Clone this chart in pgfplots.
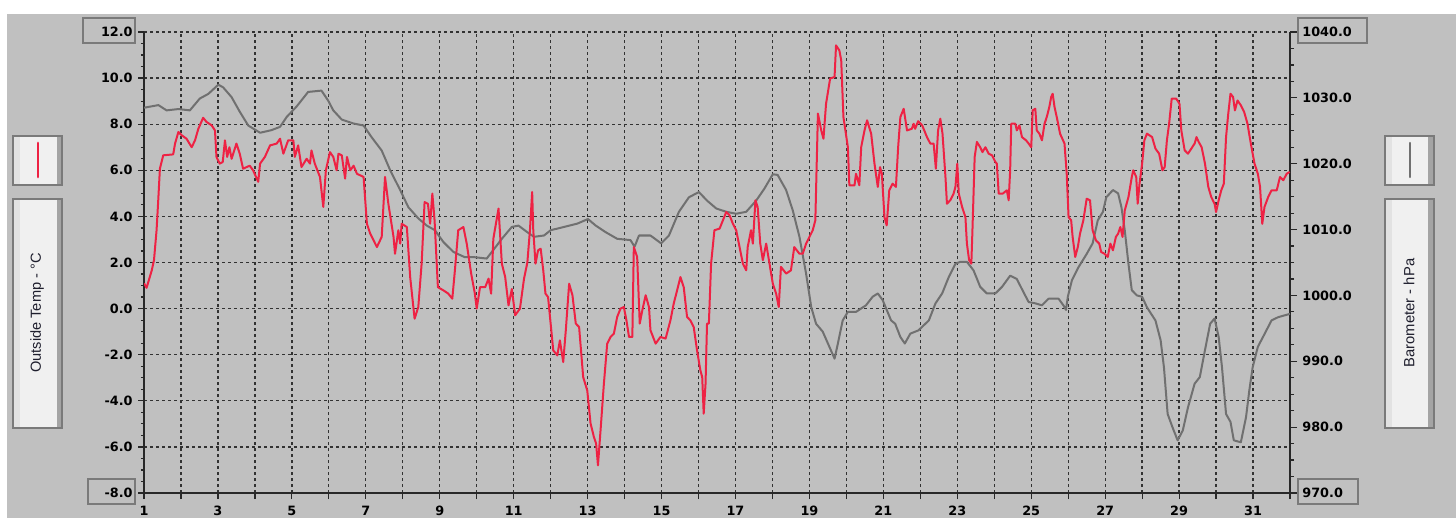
\documentclass[border=0pt]{standalone}
\usepackage{pgfplots}
\usepackage{pgfplotstable}
\pgfplotsset{compat=1.18}
\usepackage{fontspec}
\setmainfont{Liberation Sans}
\newfontfamily\tickfont{DejaVu Sans}
\definecolor{bg}{RGB}{192,192,192}
\definecolor{tempred}{RGB}{238,34,68}
\definecolor{presgrey}{RGB}{112,112,112}
\definecolor{gridc}{RGB}{50,50,50}
\definecolor{axisc}{RGB}{40,40,40}
\definecolor{boxfill}{RGB}{240,240,240}
\definecolor{boxleft}{RGB}{226,226,226}
\definecolor{boxright}{RGB}{164,164,164}
\definecolor{boxborder}{RGB}{122,122,122}
\definecolor{lblc}{RGB}{30,30,45}

\pgfplotstableread{
d T
1.00 1.1
1.07 0.9
1.21 1.66
1.27 2.1
1.34 3.4
1.39 4.84
1.43 6.07
1.52 6.65
1.79 6.69
1.84 7.16
1.93 7.66
2.02 7.52
2.15 7.37
2.29 7.0
2.38 7.3
2.47 7.8
2.60 8.28
2.69 8.1
2.83 7.95
2.92 7.73
2.96 6.58
3.05 6.29
3.13 6.36
3.19 7.3
3.25 6.58
3.31 7.0
3.37 6.5
3.50 7.16
3.59 6.72
3.68 6.07
3.86 6.2
3.95 6.0
4.09 5.5
4.14 6.29
4.27 6.58
4.41 7.08
4.59 7.16
4.68 7.37
4.77 6.72
4.90 7.3
5.04 7.3
5.08 6.58
5.17 7.08
5.26 6.14
5.40 6.5
5.49 6.29
5.53 6.86
5.62 6.29
5.76 5.71
5.85 4.41
5.92 6.0
6.03 6.79
6.12 6.58
6.21 6.0
6.26 6.72
6.35 6.65
6.44 5.64
6.49 6.58
6.58 6.0
6.67 6.2
6.76 5.85
6.94 5.71
7.03 3.68
7.12 3.25
7.30 2.67
7.43 3.11
7.52 5.71
7.61 4.55
7.75 3.11
7.79 2.38
7.88 3.4
7.93 2.82
7.97 3.68
8.11 3.54
8.20 1.37
8.32 -0.44
8.42 0.07
8.51 1.95
8.59 4.62
8.68 4.55
8.74 3.68
8.80 4.99
8.86 3.83
8.95 0.93
9.10 0.79
9.23 0.65
9.34 0.43
9.41 1.66
9.50 3.4
9.64 3.54
9.73 2.82
9.85 1.52
9.95 0.65
10.00 0.0
10.09 0.93
10.23 0.93
10.32 1.3
10.39 0.65
10.45 3.03
10.59 4.34
10.68 1.95
10.77 1.37
10.86 0.14
10.95 0.85
11.04 -0.29
11.17 0.0
11.28 1.3
11.37 2.0
11.44 3.4
11.50 5.06
11.53 3.4
11.59 1.95
11.66 2.53
11.73 2.6
11.80 1.66
11.86 0.65
11.93 0.5
12.00 -0.65
12.07 -1.81
12.18 -2.03
12.25 -1.38
12.34 -2.32
12.41 -0.94
12.50 1.08
12.59 0.58
12.68 -0.65
12.77 -0.8
12.88 -2.97
12.99 -3.55
13.08 -4.99
13.17 -5.57
13.23 -5.86
13.28 -6.8
13.35 -5.28
13.44 -3.26
13.53 -1.52
13.62 -1.23
13.71 -1.09
13.80 -0.36
13.89 0.0
13.98 0.07
14.05 -0.51
14.12 -1.23
14.21 -1.23
14.25 2.67
14.34 2.24
14.41 -0.65
14.48 -0.07
14.57 0.58
14.66 0.07
14.70 -0.94
14.84 -1.52
14.97 -1.23
15.11 -1.3
15.24 -0.51
15.33 0.22
15.42 0.79
15.51 1.37
15.60 0.93
15.69 -0.36
15.78 -0.51
15.87 -0.8
15.96 -1.81
16.05 -2.68
16.10 -2.97
16.14 -4.56
16.19 -3.26
16.23 -0.65
16.28 -0.65
16.34 1.95
16.43 3.4
16.57 3.47
16.66 3.83
16.75 4.19
16.84 4.05
16.93 3.68
17.02 3.4
17.11 2.67
17.20 1.95
17.29 1.66
17.33 2.67
17.42 3.4
17.47 2.82
17.54 4.7
17.60 4.41
17.67 2.82
17.74 2.1
17.83 2.82
17.92 1.95
18.01 1.08
18.10 0.65
18.17 0.07
18.23 1.81
18.37 1.52
18.50 1.66
18.59 2.67
18.73 2.38
18.82 2.38
18.91 2.82
19.00 3.11
19.09 3.4
19.16 3.83
19.23 8.46
19.32 7.73
19.38 7.37
19.45 8.89
19.56 9.98
19.68 10.05
19.72 11.42
19.81 11.2
19.86 10.77
19.92 8.31
20.04 7.0
20.08 5.35
20.22 5.35
20.26 5.85
20.35 5.35
20.40 7.0
20.49 7.73
20.56 8.17
20.67 7.59
20.76 6.29
20.85 5.28
20.91 6.14
20.96 5.85
21.03 3.97
21.09 3.61
21.16 5.13
21.25 5.42
21.34 5.28
21.40 7.0
21.46 8.31
21.55 8.67
21.64 7.73
21.77 7.8
21.82 8.02
21.86 7.8
21.94 8.13
22.05 7.95
22.18 7.44
22.27 7.16
22.36 7.16
22.42 6.07
22.48 7.73
22.54 8.24
22.60 7.59
22.68 5.71
22.72 4.55
22.81 4.7
22.90 4.99
22.95 5.28
23.00 6.29
23.04 4.99
23.13 4.41
23.22 3.97
23.26 2.82
23.32 2.1
23.38 1.95
23.41 3.4
23.47 6.58
23.53 7.23
23.62 7.0
23.68 6.79
23.76 7.0
23.85 6.72
23.94 6.65
24.03 6.36
24.07 6.29
24.12 4.99
24.23 4.99
24.34 5.13
24.39 4.7
24.43 6.0
24.46 8.02
24.57 8.02
24.61 7.73
24.68 7.95
24.75 7.44
24.86 7.3
24.93 7.16
25.00 7.0
25.04 8.6
25.11 8.67
25.15 7.73
25.22 7.59
25.29 7.3
25.36 8.02
25.42 8.31
25.49 8.75
25.54 9.18
25.58 9.32
25.63 8.75
25.69 8.31
25.78 7.59
25.90 7.16
25.96 5.85
26.01 3.97
26.08 3.83
26.12 3.11
26.19 2.24
26.26 2.67
26.32 3.25
26.41 3.83
26.50 4.77
26.59 4.7
26.66 3.4
26.75 2.96
26.84 2.82
26.89 2.46
26.98 2.38
27.07 2.24
27.14 2.82
27.21 2.53
27.29 3.11
27.35 3.25
27.41 3.54
27.47 3.11
27.53 4.26
27.63 4.84
27.72 5.71
27.76 6.0
27.84 5.71
27.88 4.55
27.93 5.42
28.00 6.29
28.06 7.3
28.13 7.59
28.27 7.44
28.36 6.94
28.46 6.72
28.55 6.0
28.61 6.14
28.67 7.3
28.73 8.02
28.80 9.11
28.92 9.11
29.01 8.89
29.06 7.73
29.15 6.87
29.24 6.72
29.33 6.94
29.42 7.16
29.47 7.44
29.53 7.23
29.61 7.0
29.70 6.29
29.79 5.28
29.87 4.84
29.96 4.55
30.00 4.19
30.07 4.7
30.14 5.13
30.21 5.42
30.27 7.44
30.33 8.46
30.39 9.32
30.46 9.18
30.51 8.6
30.58 9.03
30.67 8.82
30.76 8.53
30.85 8.02
30.94 7.16
31.04 6.29
31.13 5.85
31.19 5.28
31.25 3.68
31.31 4.41
31.41 4.84
31.50 5.13
31.64 5.13
31.73 5.71
31.82 5.57
31.91 5.85
31.99 5.93
}\temptable

\pgfplotstableread{
d P
1.00 1028.5
1.39 1028.9
1.61 1028.1
1.93 1028.3
2.24 1028.1
2.51 1029.9
2.74 1030.6
3.01 1032.0
3.14 1031.6
3.37 1030.1
3.59 1027.9
3.82 1025.8
4.14 1024.7
4.45 1025.1
4.68 1025.6
4.86 1027.1
5.13 1028.7
5.44 1030.9
5.62 1031.0
5.80 1031.1
5.98 1029.6
6.12 1028.1
6.35 1026.7
6.67 1026.1
6.94 1025.8
7.16 1024.0
7.43 1022.0
7.66 1019.0
7.93 1016.0
8.15 1013.4
8.42 1011.7
8.65 1010.6
8.87 1009.9
9.10 1008.1
9.37 1006.6
9.68 1005.8
9.95 1005.8
10.27 1005.6
10.45 1006.9
10.68 1008.6
10.95 1010.4
11.13 1010.6
11.37 1009.6
11.55 1008.9
11.82 1009.1
12.00 1009.9
12.36 1010.4
12.72 1010.9
13.01 1011.6
13.22 1010.6
13.49 1009.6
13.80 1008.6
14.16 1008.4
14.27 1007.4
14.39 1009.1
14.70 1009.1
14.99 1007.9
15.20 1009.1
15.47 1012.7
15.74 1014.9
16.01 1015.7
16.23 1014.4
16.48 1013.2
16.75 1012.7
17.02 1012.4
17.29 1012.7
17.56 1014.4
17.78 1016.2
18.01 1018.4
18.14 1018.3
18.37 1016.0
18.55 1012.9
18.73 1008.9
18.91 1003.3
19.05 998.2
19.18 995.7
19.36 994.5
19.54 992.2
19.68 990.4
19.77 992.7
19.90 996.2
20.04 997.5
20.26 997.5
20.53 998.5
20.71 999.8
20.85 1000.3
20.98 999.3
21.21 996.2
21.32 995.7
21.46 993.7
21.58 992.7
21.73 994.2
21.95 994.7
22.23 996.2
22.41 998.8
22.59 1000.3
22.77 1002.8
22.95 1004.8
23.08 1005.1
23.26 1005.1
23.44 1003.8
23.62 1001.3
23.80 1000.3
24.03 1000.3
24.21 1001.3
24.43 1003.0
24.61 1002.5
24.79 1000.5
24.93 999.0
25.11 998.8
25.29 998.5
25.47 999.5
25.74 999.5
25.87 998.5
25.94 997.8
25.99 999.8
26.10 1002.3
26.28 1004.3
26.50 1006.3
26.66 1007.9
26.80 1011.4
26.94 1012.7
27.03 1014.9
27.21 1016.0
27.35 1015.5
27.44 1013.4
27.53 1009.9
27.63 1004.8
27.72 1000.8
27.86 1000.0
28.00 999.8
28.13 998.2
28.36 996.2
28.50 993.2
28.59 989.1
28.69 982.0
28.82 980.0
28.96 978.0
29.10 979.5
29.24 983.0
29.42 986.6
29.56 987.6
29.70 991.7
29.84 995.7
29.96 996.5
30.07 993.7
30.16 989.1
30.27 982.0
30.39 980.8
30.48 978.0
30.67 977.7
30.81 981.5
30.90 985.6
30.99 989.1
31.13 992.2
31.27 993.7
31.50 996.2
31.68 996.7
31.87 997.0
32.00 997.2
}\prestable

\pgfplotsset{
  base/.style={
    at={(72pt,-246.5pt)}, anchor=south west,
    scale only axis, width=573pt, height=230.5pt,
    xmin=1, xmax=32,
  },
  ticktext/.style={font=\tickfont\bfseries\fontsize{6.4}{7.5}\selectfont, text=black},
}

\begin{document}
\begin{tikzpicture}
\begin{scope}[x=0.5pt,y=-0.5pt]
\useasboundingbox (0,0) rectangle (1456,518);
\fill[white] (0,0) rectangle (1456,518);
\fill[bg] (7,14) rectangle (1456,518);
% left legend boxes
\fill[boxfill] (13,136) rectangle (62,185);
\fill[boxleft] (13,136) rectangle (20,185);
\fill[boxright] (57,136) rectangle (62,185);
\draw[boxborder, line width=0.6pt] (13,136) rectangle (62,185);
\draw[tempred, line width=1.4pt, line cap=round] (38,143) -- (38,177);
\fill[boxfill] (13,199) rectangle (62,428);
\fill[boxleft] (13,199) rectangle (20,428);
\fill[boxright] (57,199) rectangle (62,428);
\draw[boxborder, line width=0.6pt] (13,199) rectangle (62,428);
\node[rotate=90, text=lblc, font=\fontsize{7.3}{8}\selectfont, inner sep=0pt] at (37,313) {Outside Temp - °C};
% right legend boxes
\fill[boxfill] (1385,136) rectangle (1434,185);
\fill[boxleft] (1385,136) rectangle (1392,185);
\fill[boxright] (1428,136) rectangle (1434,185);
\draw[boxborder, line width=0.6pt] (1385,136) rectangle (1434,185);
\draw[presgrey, line width=1.1pt, line cap=round] (1410,143) -- (1410,177);
\fill[boxfill] (1385,199) rectangle (1434,428);
\fill[boxleft] (1385,199) rectangle (1392,428);
\fill[boxright] (1428,199) rectangle (1434,428);
\draw[boxborder, line width=0.6pt] (1385,199) rectangle (1434,428);
\node[rotate=90, text=lblc, font=\fontsize{7.4}{8}\selectfont, inner sep=0pt] at (1409,313) {Barometer - hPa};
\end{scope}

% axis 1: temperature scale, grid, left & bottom
\begin{axis}[base,
  ymin=-8, ymax=12,
  axis x line*=bottom, axis y line*=left,
  axis line style={-, draw=axisc, line width=0.8pt},
  xtick={1,...,32},
  xticklabels={1,,3,,5,,7,,9,,11,,13,,15,,17,,19,,21,,23,,25,,27,,29,,31,},
  ytick={-8,-6,...,12},
  yticklabels={-8.0,-6.0,-4.0,-2.0,0.0,2.0,4.0,6.0,8.0,10.0,12.0},
  minor y tick num=3,
  tick align=outside,
  major tick length=3pt, minor tick length=1.6pt,
  tick style={draw=axisc, line width=0.6pt},
  grid=major,
  major grid style={draw=gridc, line width=0.65pt, dash pattern=on 1.7pt off 1.3pt},
  yticklabel style={ticktext, anchor=east, inner sep=0pt, xshift=-2.5pt},
  xticklabel style={ticktext, anchor=north, inner sep=0pt, yshift=-3.3pt},
]
\end{axis}

% axis 2: pressure scale, right
\begin{axis}[base,
  ymin=970, ymax=1040,
  axis x line=none, axis y line*=right,
  axis line style={-, draw=axisc, line width=0.8pt},
  ytick={970,980,...,1040},
  yticklabels={970.0,980.0,990.0,1000.0,1010.0,1020.0,1030.0,1040.0},
  minor y tick num=3,
  tick align=outside,
  major tick length=3.5pt, minor tick length=2pt,
  tick style={draw=axisc, line width=0.6pt},
  yticklabel style={ticktext, anchor=west, inner sep=0pt, xshift=2.5pt},
]
\addplot[presgrey, line width=1pt, line join=round] table[x=d, y=P] {\prestable};
\end{axis}

% axis 3: temperature line on top
\begin{axis}[base, ymin=-8, ymax=12, hide axis]
\addplot[tempred, line width=1pt, line join=round] table[x=d, y=T] {\temptable};
\end{axis}

\begin{scope}[x=0.5pt,y=-0.5pt]
\draw[boxborder, line width=0.6pt] (83,18) rectangle (135,43);
\draw[boxborder, line width=0.6pt] (88,479) rectangle (135,504);
\draw[boxborder, line width=0.6pt] (1298,18) rectangle (1367,43);
\draw[boxborder, line width=0.6pt] (1298,479) rectangle (1358,504);
\end{scope}
\end{tikzpicture}
\end{document}
